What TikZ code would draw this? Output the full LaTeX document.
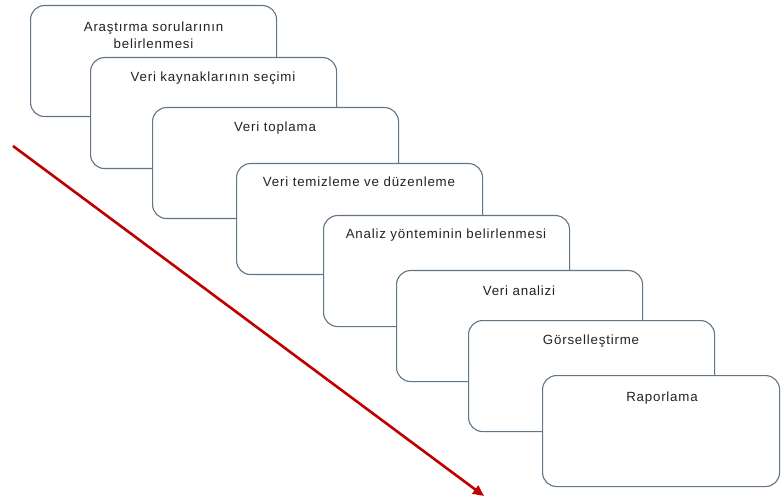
\documentclass[tikz,border=0pt]{standalone}
\usepackage{fontspec}
\setmainfont{Liberation Sans}[LetterSpace=6]
\usetikzlibrary{arrows.meta}
\definecolor{boxc}{RGB}{96,118,135}
\definecolor{arrc}{RGB}{192,0,0}
\definecolor{txtc}{RGB}{35,35,35}
\tikzset{
  stagebox/.style={draw=boxc, line width=1.1pt, rounded corners=14pt, fill=white,
    minimum width=246pt, minimum height=111pt, inner sep=0pt, anchor=north west},
  stagetext/.style={anchor=base, font=\fontsize{13.3}{17}\selectfont, text=txtc,
    align=center, inner sep=0pt},
}
\begin{document}
\begin{tikzpicture}[x=1pt,y=-1pt]
\useasboundingbox (0,0) rectangle (781,502);
\coordinate (as) at (13,146);
\coordinate (ae) at (484,496);
\draw[arrc, line width=2.6pt, -{Triangle[length=11pt,width=10pt]}] (as) -- (ae);

\node[stagebox] (b1) at (30,5) {};
\node[stagetext] (t1) at (153.5,49) {Araştırma sorularının\\belirlenmesi};
\node[stagebox] (b2) at (90,57) {};
\node[stagetext] (t2) at (213,82) {Veri kaynaklarının seçimi};
\node[stagebox] (b3) at (152,107) {};
\node[stagetext] (t3) at (275,132) {Veri toplama};
\node[stagebox] (b4) at (236,163) {};
\node[stagetext] (t4) at (359,187) {Veri temizleme ve düzenleme};
\node[stagebox] (b5) at (323,215) {};
\node[stagetext] (t5) at (446,239) {Analiz yönteminin belirlenmesi};
\node[stagebox] (b6) at (396,270) {};
\node[stagetext] (t6) at (519,296) {Veri analizi};
\node[stagebox] (b7) at (468,320) {};
\node[stagetext] (t7) at (591,344) {Görselleştirme};
\node[stagebox, minimum width=237pt] (b8) at (542,375) {};
\node[stagetext] (t8) at (662,401) {Raporlama};
\end{tikzpicture}
\end{document}
